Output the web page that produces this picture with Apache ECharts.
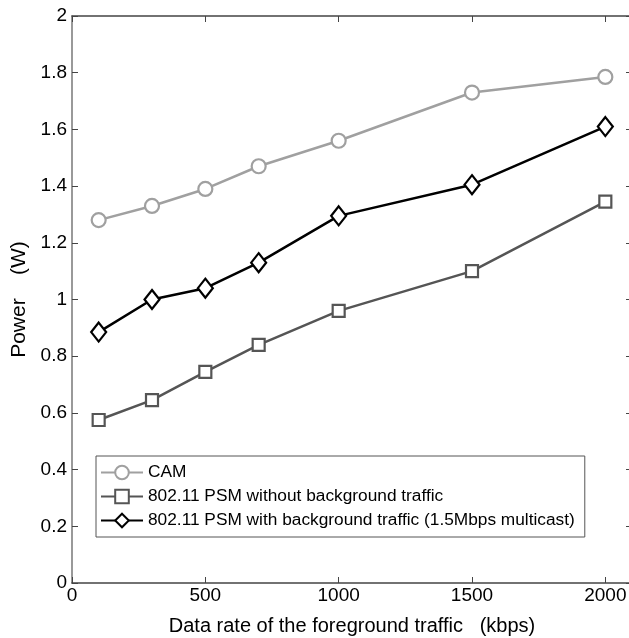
<!DOCTYPE html>
<html>
<head>
<meta charset="utf-8">
<script src="https://cdn.jsdelivr.net/npm/echarts@6/dist/echarts.min.js"></script>
<style>html,body{margin:0;padding:0;background:#fff}#c{width:629px;height:638px}</style>
</head>
<body>
<div id="c"></div>
<script>
const xValues = [100, 300, 500, 700, 1000, 1500, 2000];
const camValues = [1.28, 1.33, 1.39, 1.47, 1.56, 1.73, 1.785];
const psmNoBgValues = [0.575, 0.645, 0.745, 0.84, 0.96, 1.10, 1.345];
const psmBgValues = [0.885, 1.0, 1.04, 1.13, 1.295, 1.405, 1.61];
const seriesNames = ['CAM', '802.11 PSM without background traffic', '802.11 PSM with background traffic (1.5Mbps multicast)'];
const xTitle = 'Data rate of the foreground traffic   (kbps)';
const yTitle = 'Power    (W)';

const font = 'Liberation Sans, Arial, Helvetica, sans-serif';
const axisColor = '#444';
function pairs(v){ return xValues.map((x,i)=>[x,v[i]]); }

const chart = echarts.init(document.getElementById('c'), null, {renderer:'canvas'});
chart.setOption({
  animation: false,
  backgroundColor: '#fff',
  grid: {left: 72, top: 16, right: -3, bottom: 55, outerBoundsMode: 'none', containLabel: false},
  legend: {
    orient: 'vertical', left: 96, top: 456,
    backgroundColor: '#fff', borderColor: '#555', borderWidth: 1,
    padding: [8, 10, 8, 4], itemGap: 7, itemWidth: 42, itemHeight: 17,
    textStyle: {fontFamily: font, fontSize: 17.3, color: '#000'},
    data: seriesNames
  },
  xAxis: [{
    type: 'value', min: 0, max: 2100, interval: 500,
    name: xTitle, nameLocation: 'middle', nameGap: 33,
    nameTextStyle: {fontFamily: font, fontSize: 20, color: '#000'},
    axisLine: {show: true, onZero: false, lineStyle: {color: axisColor, width: 1.5}},
    axisTick: {show: true, inside: true, length: 6, lineStyle: {color: axisColor}},
    axisLabel: {fontFamily: font, fontSize: 19, color: '#000', margin: 3,
      formatter: v => String(v)},
    splitLine: {show: false}
  }, {
    type: 'value', min: 0, max: 2100, interval: 500, position: 'top',
    axisLine: {show: true, onZero: false, lineStyle: {color: axisColor, width: 1.5}},
    axisTick: {show: true, inside: true, length: 6, lineStyle: {color: axisColor}},
    axisLabel: {show: false}, splitLine: {show: false}
  }],
  yAxis: [{
    type: 'value', min: 0, max: 2, interval: 0.2,
    name: yTitle, nameLocation: 'middle', nameGap: 42,
    nameTextStyle: {fontFamily: font, fontSize: 21, color: '#000'},
    axisLine: {show: true, onZero: false, lineStyle: {color: '#777', width: 1.5}},
    axisTick: {show: true, inside: true, length: 6, lineStyle: {color: axisColor}},
    axisLabel: {fontFamily: font, fontSize: 19, color: '#000', margin: 5,
      formatter: v => String(Math.round(v*10)/10)},
    splitLine: {show: false}
  }, {
    type: 'value', min: 0, max: 2, interval: 0.2, position: 'right',
    axisLine: {show: true, onZero: false, lineStyle: {color: axisColor, width: 1.5}},
    axisTick: {show: true, inside: true, length: 6, lineStyle: {color: axisColor}},
    axisLabel: {show: false}, splitLine: {show: false}
  }],
  series: [{
    name: seriesNames[0], type: 'line', data: pairs(camValues),
    symbol: 'circle', symbolSize: 14,
    lineStyle: {color: '#a0a0a0', width: 2.5},
    itemStyle: {color: '#fff', borderColor: '#a0a0a0', borderWidth: 2.2}
  }, {
    name: seriesNames[1], type: 'line', data: pairs(psmNoBgValues),
    symbol: 'rect', symbolSize: 12,
    lineStyle: {color: '#555', width: 2.5},
    itemStyle: {color: '#fff', borderColor: '#555', borderWidth: 2.2}
  }, {
    name: seriesNames[2], type: 'line', data: pairs(psmBgValues),
    symbol: 'diamond', symbolSize: [15, 19],
    lineStyle: {color: '#000', width: 2.5},
    itemStyle: {color: '#fff', borderColor: '#000', borderWidth: 2.2}
  }]
});
</script>
</body>
</html>
